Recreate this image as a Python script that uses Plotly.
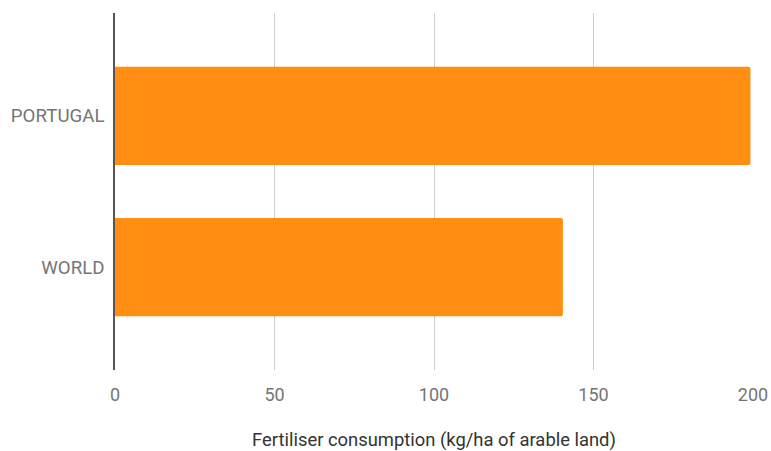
import plotly.graph_objects as go

categories = ["PORTUGAL", "WORLD"]
values = [199.2, 140.4]
x_ticks = [0, 50, 100, 150, 200]

fig = go.Figure(go.Bar(
    y=categories, x=values, orientation="h",
    marker=dict(color="#FF8E13", cornerradius=2, line=dict(width=0)),
))
fig.update_layout(
    width=771, height=451,
    margin=dict(l=115, r=18, t=13, b=81),
    paper_bgcolor="white", plot_bgcolor="white",
    font=dict(family="Roboto", size=18, color="#757575"),
    bargap=0.35,
    showlegend=False,
)
fig.update_xaxes(
    range=[0, 200], tickvals=x_ticks, showgrid=True, gridcolor="#CCCCCC", gridwidth=1,
    zeroline=False, showline=False, ticks="", ticklabelstandoff=12, automargin=False,
    title=dict(text="Fertiliser consumption (kg/ha of arable land)", font=dict(size=18.4, color="#333333"), standoff=29),
)
fig.update_yaxes(
    autorange=False, range=[1.68, -0.68], showgrid=False, showline=True, linecolor="#555555",
    linewidth=1.5, ticks="", ticklabelstandoff=5, automargin=False, tickfont=dict(size=18.7),
)
fig.write_html("out.html", config={"displayModeBar": False},
               post_script="document.body.style.margin='0';document.body.style.overflow='hidden';")
